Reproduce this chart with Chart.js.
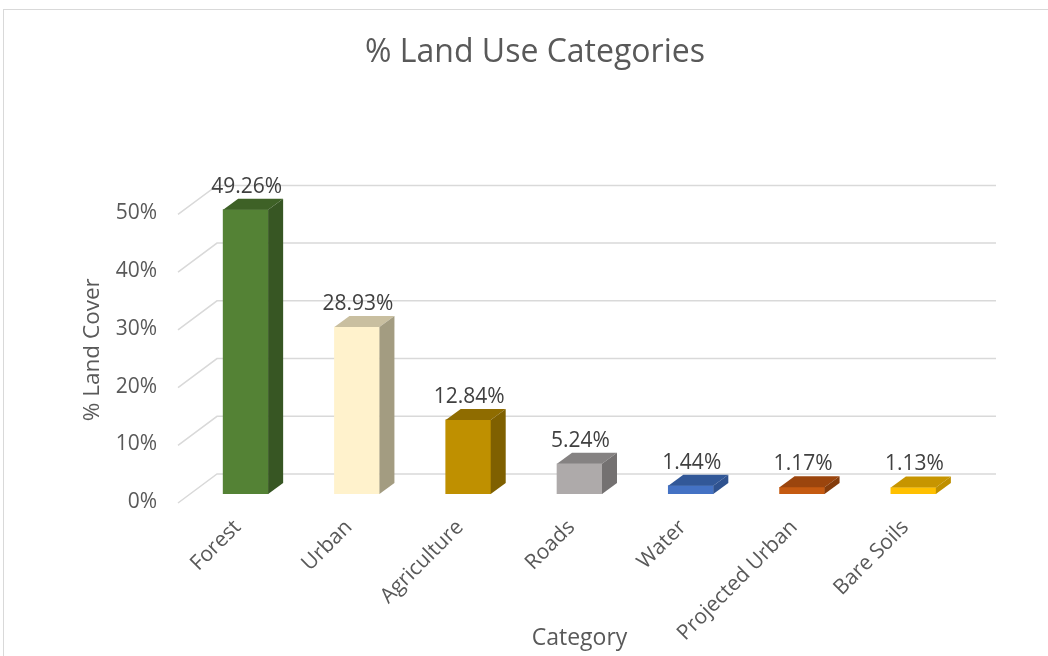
<!DOCTYPE html>
<html>
<head>
<meta charset="utf-8">
<script src="https://cdn.jsdelivr.net/npm/chart.js@4/dist/chart.umd.min.js"></script>
<style>
    body { margin: 0; background: #ffffff; overflow: hidden; }
</style>
</head>
<body>
<canvas id="chart" width="1048" height="656"></canvas>
<script>
var categories = ["Forest", "Urban", "Agriculture", "Roads", "Water", "Projected Urban", "Bare Soils"];
var landCover = [49.26, 28.93, 12.84, 5.24, 1.44, 1.17, 1.13];
var yTicks = [0, 10, 20, 30, 40, 50];

var frontColors = ["#548235", "#fff2cc", "#bf9000", "#aeaaaa", "#4472c4", "#c55a11", "#ffc000"];
var topColors = ["#3e6126", "#c9bfa0", "#8f6c00", "#858282", "#325898", "#9b450d", "#c79500"];
var sideColors = ["#375623", "#a39c81", "#7f6000", "#747171", "#2f528f", "#843c0c", "#bf9000"];

var textColor = "#595959";
var gridColor = "#d9d9d9";
var depthX = 15;
var depthY = -11;

// the light frame round the whole chart
var framePlugin = {
    id: "frame",
    beforeDraw: function(chart) {
        var ctx = chart.ctx;
        ctx.save();
        ctx.strokeStyle = gridColor;
        ctx.lineWidth = 1;
        ctx.strokeRect(3.5, 9.5, 1100, 700);
        ctx.restore();
    }
};

// back wall gridlines and the slanted lines from the value axis
var wallPlugin = {
    id: "wall",
    beforeDatasetsDraw: function(chart) {
        var ctx = chart.ctx;
        var y = chart.scales.y;
        var area = chart.chartArea;
        ctx.save();
        ctx.strokeStyle = gridColor;
        ctx.lineWidth = 1.5;
        yTicks.forEach(function(v) {
            var py = y.getPixelForValue(v);
            ctx.beginPath();
            ctx.moveTo(area.left - 12, py + 9);
            ctx.lineTo(area.left + 27, py - 20);
            ctx.lineTo(area.right + 27, py - 20);
            ctx.stroke();
        });
        ctx.restore();
    }
};

// top and side faces of each bar, then the value labels
var barsPlugin = {
    id: "bars3d",
    afterDatasetsDraw: function(chart) {
        var ctx = chart.ctx;
        var meta = chart.getDatasetMeta(0);
        ctx.save();
        meta.data.forEach(function(bar, i) {
            var left = bar.x - bar.width / 2;
            var right = bar.x + bar.width / 2;

            ctx.fillStyle = topColors[i];
            ctx.beginPath();
            ctx.moveTo(left, bar.y);
            ctx.lineTo(right, bar.y);
            ctx.lineTo(right + depthX, bar.y + depthY);
            ctx.lineTo(left + depthX, bar.y + depthY);
            ctx.closePath();
            ctx.fill();

            ctx.fillStyle = sideColors[i];
            ctx.beginPath();
            ctx.moveTo(right, bar.y);
            ctx.lineTo(right + depthX, bar.y + depthY);
            ctx.lineTo(right + depthX, bar.base + depthY);
            ctx.lineTo(right, bar.base);
            ctx.closePath();
            ctx.fill();

            ctx.fillStyle = "#404040";
            ctx.font = "21px 'Open Sans'";
            ctx.textAlign = "center";
            ctx.textBaseline = "alphabetic";
            ctx.fillText(landCover[i].toFixed(2) + "%", bar.x + 1, bar.y + depthY - 6);
        });
        ctx.restore();
    }
};

function createChart() {
    var chart = document.getElementById("chart").getContext("2d");
    new Chart(chart, {
        type: "bar",
        data: {
            labels: categories,
            datasets: [{
                data: landCover,
                backgroundColor: frontColors,
                borderWidth: 0,
                barThickness: 45
            }]
        },
        options: {
            responsive: false,
            animation: false,
            layout: {
                padding: { left: 22, right: 0, top: 0, bottom: 0 }
            },
            scales: {
                x: {
                    grid: { display: false, drawTicks: false },
                    border: { display: false },
                    ticks: {
                        color: textColor,
                        font: { family: "Open Sans", size: 21 },
                        minRotation: 45,
                        maxRotation: 45,
                        padding: 21,
                        labelOffset: -8,
                        autoSkip: false
                    },
                    title: {
                        display: true,
                        text: "Category",
                        color: textColor,
                        font: { family: "Open Sans", size: 23 },
                        padding: { top: 0, bottom: 4 }
                    },
                    afterFit: function(scale) {
                        scale.height = 162;
                    }
                },
                y: {
                    min: 0,
                    max: 50,
                    grid: { display: false, drawTicks: false },
                    border: { display: false },
                    ticks: {
                        stepSize: 10,
                        color: textColor,
                        font: { family: "Open Sans", size: 21 },
                        padding: 33,
                        labelOffset: 8,
                        callback: function(value) {
                            return value + "%";
                        }
                    },
                    title: {
                        display: true,
                        text: "% Land Cover",
                        color: textColor,
                        font: { family: "Open Sans", size: 22.5 },
                        padding: { top: 57, bottom: 0 }
                    },
                    afterFit: function(scale) {
                        scale.width = 168;
                    }
                },
                // empty axis that only keeps the space on the right
                spacer: {
                    type: "linear",
                    position: "right",
                    grid: { display: false, drawTicks: false },
                    border: { display: false },
                    ticks: { display: false },
                    afterFit: function(scale) {
                        scale.width = 79;
                    }
                }
            },
            plugins: {
                legend: { display: false },
                tooltip: { enabled: false },
                title: {
                    display: true,
                    text: "% Land Use Categories",
                    color: textColor,
                    font: { family: "Open Sans", size: 32, weight: "normal" },
                    padding: { top: 34, bottom: 133 }
                }
            }
        },
        plugins: [framePlugin, wallPlugin, barsPlugin]
    });
}

window.onload = function() {
    createChart();
};
</script>
</body>
</html>
